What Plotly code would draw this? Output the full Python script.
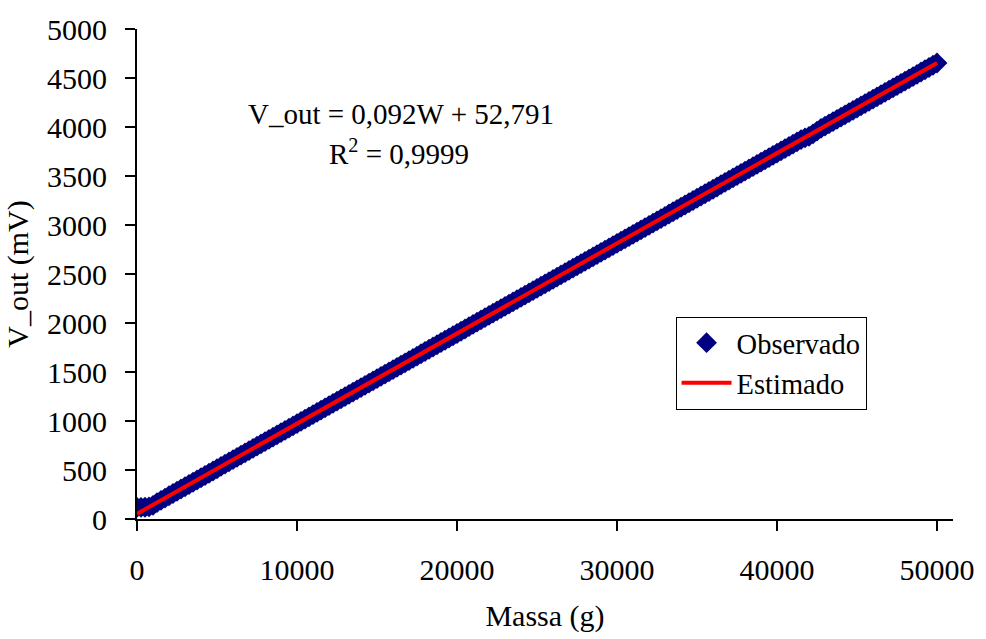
import plotly.graph_objects as go

# Observed data (mass in g, V_out in mV)
massa_obs = list(range(0, 50001, 250))
vout_obs = [
    118, 118, 120, 123, 140, 168, 191, 214, 237, 260,
    283, 306, 329, 352, 375, 398, 421, 444, 467, 490,
    513, 536, 559, 582, 605, 628, 651, 674, 697, 720,
    743, 766, 789, 812, 835, 858, 881, 904, 927, 950,
    973, 996, 1019, 1042, 1065, 1088, 1111, 1134, 1157, 1180,
    1203, 1226, 1249, 1272, 1295, 1318, 1341, 1364, 1387, 1410,
    1433, 1456, 1479, 1502, 1525, 1548, 1571, 1594, 1617, 1640,
    1663, 1686, 1709, 1732, 1755, 1778, 1801, 1824, 1847, 1870,
    1893, 1916, 1939, 1962, 1985, 2008, 2031, 2054, 2077, 2100,
    2123, 2146, 2169, 2192, 2215, 2238, 2261, 2284, 2307, 2330,
    2353, 2376, 2399, 2422, 2445, 2468, 2491, 2514, 2537, 2560,
    2583, 2606, 2629, 2652, 2675, 2698, 2721, 2744, 2767, 2790,
    2813, 2836, 2859, 2882, 2905, 2928, 2951, 2974, 2997, 3020,
    3043, 3066, 3089, 3112, 3135, 3158, 3181, 3204, 3227, 3250,
    3273, 3296, 3319, 3342, 3365, 3388, 3411, 3434, 3457, 3480,
    3503, 3526, 3549, 3572, 3595, 3618, 3641, 3664, 3687, 3710,
    3733, 3756, 3779, 3802, 3825, 3848, 3871, 3890, 3905, 3930,
    3958, 3986, 4009, 4032, 4055, 4078, 4101, 4124, 4147, 4170,
    4193, 4216, 4239, 4262, 4285, 4308, 4331, 4354, 4377, 4400,
    4423, 4446, 4469, 4492, 4515, 4538, 4561, 4584, 4607, 4630,
    4653,
]

# Estimated (trend line) endpoints
massa_est = [0, 50000]
vout_est = [52.791, 4652.791]

x_ticks = [0, 10000, 20000, 30000, 40000, 50000]
y_ticks = [0, 500, 1000, 1500, 2000, 2500, 3000, 3500, 4000, 4500, 5000]

equation_text = "V_out = 0,092W + 52,791"
r2_text = "R<sup>2</sup> = 0,9999"

font_family = "Liberation Serif, Times New Roman, serif"

fig = go.Figure()
fig.add_trace(go.Scatter(
    x=massa_obs, y=vout_obs, mode="markers", name="Observado",
    marker=dict(symbol="diamond", size=16, color="#000080",
                line=dict(width=0)),
))
fig.add_trace(go.Scatter(
    x=massa_est, y=vout_est, mode="lines", name="Estimado",
    line=dict(color="#FF0000", width=4),
))

fig.update_layout(
    width=986, height=639,
    margin=dict(l=137, r=24, t=24, b=117),
    paper_bgcolor="white", plot_bgcolor="white",
    font=dict(family=font_family, size=30, color="black"),
    showlegend=True,
    legend=dict(
        x=0.660, y=0.413, xanchor="left", yanchor="top",
        bordercolor="black", borderwidth=1, bgcolor="white",
        font=dict(size=28.5, family=font_family), itemwidth=50,
        tracegroupgap=0,
    ),
    annotations=[
        dict(x=0.3236, y=0.826, xref="paper", yref="paper",
             text=equation_text, showarrow=False,
             xanchor="center", yanchor="middle",
             font=dict(size=29, family=font_family, color="black")),
        dict(x=0.3212, y=0.750, xref="paper", yref="paper",
             text=r2_text, showarrow=False,
             xanchor="center", yanchor="middle",
             font=dict(size=29, family=font_family, color="black")),
    ],
)
fig.update_xaxes(
    range=[0, 51000], tickvals=x_ticks, ticktext=[str(v) for v in x_ticks],
    showline=True, linecolor="black", linewidth=2,
    ticks="outside", ticklen=10, tickcolor="black", tickwidth=2,
    ticklabelstandoff=13,
    showgrid=False, zeroline=False,
    tickfont=dict(size=30),
    title=dict(text="Massa (g)", standoff=20, font=dict(size=30)),
)
fig.update_yaxes(
    range=[0, 5000], tickvals=y_ticks, ticktext=[str(v) for v in y_ticks],
    showline=True, linecolor="black", linewidth=2,
    ticks="outside", ticklen=10, tickcolor="black", tickwidth=2,
    ticklabelstandoff=12,
    showgrid=False, zeroline=False,
    tickfont=dict(size=30),
    title=dict(text="V_out (mV)", standoff=10, font=dict(size=30)),
)

fig.write_html(
    "out.html",
    config={"displayModeBar": False},
    post_script="document.body.style.margin='0';document.body.style.overflow='hidden';",
)
